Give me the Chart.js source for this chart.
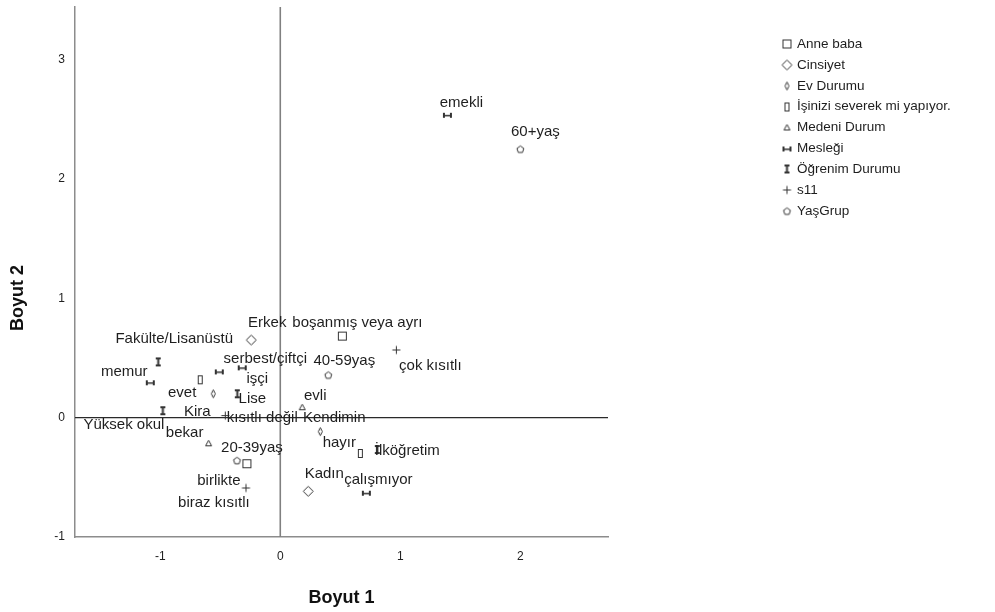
<!DOCTYPE html>
<html lang="tr">
<head>
<meta charset="utf-8">
<title>Boyut 1 / Boyut 2</title>
<script src="https://cdn.jsdelivr.net/npm/chart.js@4.4.0/dist/chart.umd.min.js"></script>
<style>
  body { margin: 0; background: #fff; }
  #chart { display: block; }
</style>
</head>
<body>
<canvas id="chart" width="995" height="612"></canvas>
<script>
// Değişken grupları ve kategorileri
const groupNames = ['Anne baba', 'Cinsiyet', 'Ev Durumu', 'İşinizi severek mi yapıyor.',
  'Medeni Durum', 'Mesleği', 'Öğrenim Durumu', 's11', 'YaşGrup'];

const categoryLabels = [
  ['birlikte', 'boşanmış veya ayrı'],
  ['Erkek', 'Kadın'],
  ['Kira', 'Kendimin'],
  ['evet', 'hayır'],
  ['evli', 'bekar'],
  ['memur', 'serbest/çiftçi', 'işçi', 'emekli', 'çalışmıyor'],
  ['İlköğretim', 'Lise', 'Yüksek okul', 'Fakülte/Lisanüstü'],
  ['kısıtlı değil', 'biraz kısıtlı', 'çok kısıtlı'],
  ['20-39yaş', '40-59yaş', '60+yaş']
];

// Boyut 1 koordinatları
const dim1 = [
  [-0.278, 0.517],
  [-0.242, 0.233],
  [-0.558, 0.333],
  [-0.667, 0.667],
  [0.183, -0.597],
  [-1.083, -0.508, -0.317, 1.392, 0.717],
  [0.808, -0.358, -0.978, -1.017],
  [-0.458, -0.286, 0.967],
  [-0.361, 0.4, 2.0]
];

// Boyut 2 koordinatları
const dim2 = [
  [-0.386, 0.683],
  [0.65, -0.617],
  [0.2, -0.117],
  [0.317, -0.3],
  [0.083, -0.219],
  [0.292, 0.383, 0.417, 2.533, -0.633],
  [-0.267, 0.2, 0.058, 0.467],
  [0.017, -0.589, 0.567],
  [-0.358, 0.358, 2.25]
];

const xTicks = [-1, 0, 1, 2];
const yTicks = [-1, 0, 1, 2, 3];

// Etiketlerin noktaya göre kaydırması (piksel)
const labelOffsets = [
  [[-28, 17], [15, -13]],
  [[16, -17], [16, -17]],
  [[-16, 18], [14, -14]],
  [[-18, 13], [-21, -11]],
  [[13, -12], [-24, -11]],
  [[-26, -11], [46, -13], [15, 11], [14, -12], [12, -13]],
  [[30, 1], [15, 5], [-39, 14], [16, -23]],
  [[37, 2], [-32, 15], [34, 16]],
  [[15, -13], [16, -14], [15, -17]]
];

const FONT = "'Liberation Sans', Arial, sans-serif";
const INK = '#333';

// Nokta simgeleri (SPSS tarzı)
function makeMarker(kind) {
  const c = document.createElement('canvas');
  c.width = 13; c.height = 13;
  const g = c.getContext('2d');
  g.strokeStyle = INK; g.fillStyle = INK; g.lineWidth = 1;
  g.beginPath();
  switch (kind) {
    case 'square':
      g.strokeRect(2.5, 2.5, 8, 8); break;
    case 'diamond':
      g.moveTo(6.5, 1.5); g.lineTo(11.5, 6.5); g.lineTo(6.5, 11.5); g.lineTo(1.5, 6.5); g.closePath(); g.stroke(); break;
    case 'thinDiamond':
      g.moveTo(6.5, 2.5); g.lineTo(8.5, 6.5); g.lineTo(6.5, 10.5); g.lineTo(4.5, 6.5); g.closePath(); g.stroke(); break;
    case 'thinRect':
      g.strokeRect(4.5, 2.5, 4, 8); break;
    case 'triangle':
      g.moveTo(6.5, 3); g.lineTo(9.5, 8.5); g.lineTo(3.5, 8.5); g.closePath(); g.stroke(); break;
    case 'hbeam':
      g.fillRect(2, 4, 2, 5); g.fillRect(9, 4, 2, 5); g.fillRect(4, 6, 5, 1.5); break;
    case 'vbeam':
      g.fillRect(4, 2, 5, 2); g.fillRect(4, 9, 5, 2); g.fillRect(5.5, 4, 2, 5); break;
    case 'plus':
      g.moveTo(2.5, 6.5); g.lineTo(10.5, 6.5); g.moveTo(6.5, 2.5); g.lineTo(6.5, 10.5); g.stroke(); break;
    case 'pentagon':
      for (let i = 0; i < 5; i++) {
        const a = -Math.PI / 2 + i * 2 * Math.PI / 5;
        const px = 6.5 + 3.6 * Math.cos(a), py = 7 + 3.6 * Math.sin(a);
        i ? g.lineTo(px, py) : g.moveTo(px, py);
      }
      g.closePath(); g.stroke(); break;
  }
  return c;
}

const markerKinds = ['square', 'diamond', 'thinDiamond', 'thinRect', 'triangle', 'hbeam', 'vbeam', 'plus', 'pentagon'];
const markers = markerKinds.map(makeMarker);

const datasets = groupNames.map((name, g) => ({
  label: name,
  data: dim1[g].map((x, i) => ({ x: x, y: dim2[g][i] })),
  pointStyle: markers[g],
  pointRadius: 6,
  showLine: false
}));

// Sıfır çizgileri
const zeroLines = {
  id: 'zeroLines',
  beforeDatasetsDraw(chart) {
    const { ctx, chartArea: a, scales } = chart;
    const x0 = scales.x.getPixelForValue(0);
    const y0 = scales.y.getPixelForValue(0);
    ctx.save();
    ctx.strokeStyle = '#808080'; ctx.lineWidth = 1.6;
    ctx.beginPath(); ctx.moveTo(x0, a.top); ctx.lineTo(x0, a.bottom); ctx.stroke();
    ctx.strokeStyle = '#2a2a2a'; ctx.lineWidth = 1.3;
    ctx.beginPath(); ctx.moveTo(a.left, y0); ctx.lineTo(a.right, y0); ctx.stroke();
    ctx.restore();
  }
};

// Nokta etiketleri
const pointLabels = {
  id: 'pointLabels',
  afterDatasetsDraw(chart) {
    const ctx = chart.ctx;
    ctx.save();
    ctx.font = '15px ' + FONT;
    ctx.fillStyle = '#1e1e1e';
    ctx.textAlign = 'center';
    ctx.textBaseline = 'middle';
    chart.data.datasets.forEach((ds, g) => {
      chart.getDatasetMeta(g).data.forEach((pt, i) => {
        const [dx, dy] = labelOffsets[g][i];
        ctx.fillText(categoryLabels[g][i], pt.x + dx, pt.y + dy);
      });
    });
    ctx.restore();
  }
};

// Eksen başlıkları ve açıklama
const extras = {
  id: 'extras',
  afterDraw(chart) {
    const { ctx, chartArea: a } = chart;
    ctx.save();
    ctx.fillStyle = '#111';
    ctx.font = 'bold 18px ' + FONT;
    ctx.textAlign = 'center';
    ctx.textBaseline = 'middle';
    ctx.fillText('Boyut 1', (a.left + a.right) / 2, 598);
    ctx.translate(18, 298);
    ctx.rotate(-Math.PI / 2);
    ctx.fillText('Boyut 2', 0, 0);
    ctx.restore();

    ctx.save();
    ctx.font = '13.5px ' + FONT;
    ctx.fillStyle = '#1e1e1e';
    ctx.textAlign = 'left';
    ctx.textBaseline = 'middle';
    chart.data.datasets.forEach((ds, g) => {
      const y = 44 + g * 20.9;
      ctx.drawImage(ds.pointStyle, 787 - 6.5, Math.round(y) - 6.5);
      ctx.fillText(ds.label, 797, y);
    });
    ctx.restore();
  }
};

function noPad(s) {
  s.paddingTop = 0; s.paddingBottom = 0; s.paddingLeft = 0; s.paddingRight = 0;
}

new Chart(document.getElementById('chart'), {
  type: 'scatter',
  data: { datasets: datasets },
  options: {
    responsive: false,
    animation: false,
    events: [],
    layout: { padding: { left: 0, top: 4, right: 387, bottom: 0 } },
    plugins: { legend: { display: false }, tooltip: { enabled: false } },
    scales: {
      x: {
        type: 'linear', min: -1.71, max: 2.73,
        grid: { display: false, drawTicks: false },
        border: { display: true, color: '#8c8c8c', width: 1.5 },
        ticks: { color: '#222', font: { family: FONT, size: 12 }, padding: 12 },
        afterBuildTicks: s => { s.ticks = xTicks.map(v => ({ value: v })); },
        afterFit: s => { s.height = 75; noPad(s); }
      },
      y: {
        type: 'linear', min: -1, max: 3.44,
        grid: { display: false, drawTicks: false },
        border: { display: true, color: '#8c8c8c', width: 1.5 },
        ticks: { color: '#222', font: { family: FONT, size: 12 }, padding: 10 },
        afterBuildTicks: s => { s.ticks = yTicks.map(v => ({ value: v })); },
        afterFit: s => { s.width = 75; noPad(s); }
      }
    }
  },
  plugins: [zeroLines, pointLabels, extras]
});
</script>
</body>
</html>
